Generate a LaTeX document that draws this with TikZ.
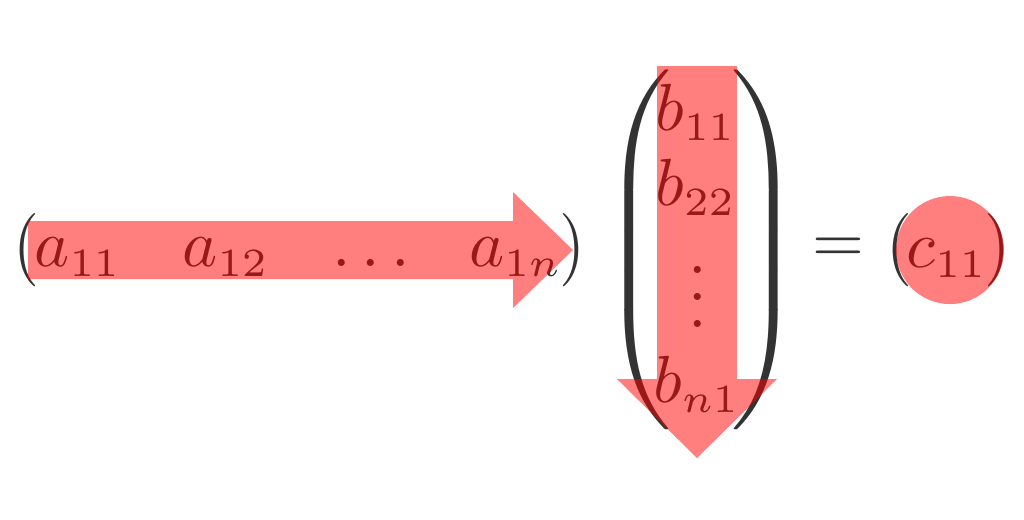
\documentclass[tikz,border=0pt]{standalone}
\usepackage{amsmath}
\usepackage{tikz}
\usetikzlibrary{positioning}

\DeclareMathSizes{10}{10}{6}{5}
\newcommand{\bigdelim}[1]{\scalebox{1.2}[1]{$\nulldelimiterspace=0pt #1$}}

\begin{document}
\begin{tikzpicture}[x=0.15pt,y=-0.15pt,
    entry/.style={inner sep=0pt,anchor=base,text=black!80},
    delim/.style={inner sep=0pt,text=black!80},
    hl/.style={fill=red,fill opacity=0.5}]
  \useasboundingbox (0,0) rectangle (1024,519);
  % row
  \node[delim] (lrow) at (26,250) {\scalebox{1}[1.1]{$($}};
  \node[entry] (a11) at (78,266) {$a_{11}$};
  \node[entry] (a12) at (226,266) {$a_{12}$};
  \node[entry] (adots) at (371,266) {$\ldots$};
  \node[entry] (a1n) at (516,266) {$a_{1n}$};
  \node[delim] (rrow) at (572,250) {\scalebox{1}[1.1]{$)$}};
  % column
  \node[delim] (lcol) at (636,250) {\bigdelim{\left(\vcenter{\hrule height 56pt width 0pt}\right.}};
  \node[delim] (rcol) at (766,250) {\bigdelim{\left.\vcenter{\hrule height 56pt width 0pt}\right)}};
  \node[entry] (b11) at (696,130) {$b_{11}$};
  \node[entry] (b22) at (696,205) {$b_{22}$};
  \node[entry] (bdots) at (698,327) {$\vdots$};
  \node[entry] (bn1) at (697,402) {$b_{n1}$};
  % result
  \node[delim] (eq) at (838,250) {$=$};
  \node[delim] (lres) at (899,250) {\scalebox{1}[1.1]{$($}};
  \node[entry] (c11) at (947,267) {$c_{11}$};
  \node[delim] (rres) at (997,250) {\scalebox{1}[1.1]{$)$}};
  % highlights
  \fill[hl] (28,221) -- (513,221) -- (513,192) -- (573,250) -- (513,308) -- (513,279) -- (28,279) -- cycle;
  \fill[hl] (657,66) -- (737,66) -- (737,379) -- (777,379) -- (697,458) -- (617,379) -- (657,379) -- cycle;
  \fill[hl] (950,250) circle[radius=54];
\end{tikzpicture}
\end{document}
